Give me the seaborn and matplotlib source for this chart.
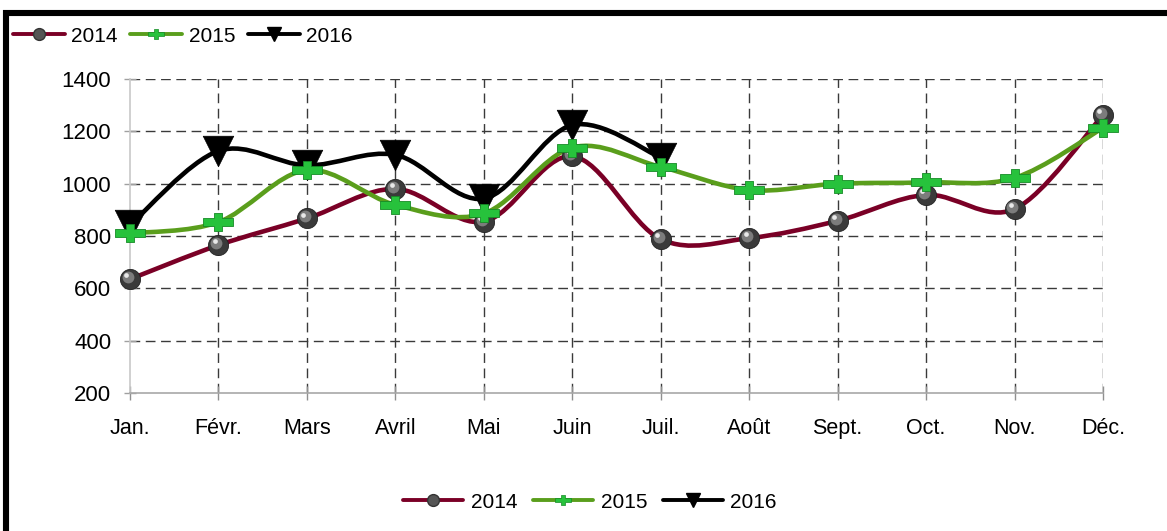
import numpy as np
import pandas as pd
import matplotlib
matplotlib.use("Agg")
import matplotlib.pyplot as plt
import seaborn as sns
from matplotlib.path import Path
from matplotlib.patches import PathPatch, Rectangle
from matplotlib.lines import Line2D
from matplotlib.transforms import ScaledTranslation

months = ["Jan.", "Févr.", "Mars", "Avril", "Mai", "Juin", "Juil.",
          "Août", "Sept.", "Oct.", "Nov.", "Déc."]
v2014 = [635, 765, 867, 980, 855, 1105, 788, 792, 858, 957, 903, 1262]
v2015 = [810, 853, 1052, 919, 886, 1138, 1064, 976, 1000, 1005, 1022, 1213]
v2016 = [842, 1125, 1070, 1110, 943, 1224, 1100]
series_names = ["2014", "2015", "2016"]
yticks = [200, 400, 600, 800, 1000, 1200, 1400]

c2014 = "#7A0026"
c2015 = "#5A9E1C"
c2016 = "#000000"

sns.set_theme(style="white")
plt.rcParams["font.family"] = ["Liberation Sans", "DejaVu Sans"]
plt.rcParams["text.color"] = "black"

W, H, DPI = 1167, 531, 100
fig = plt.figure(figsize=(W / DPI, H / DPI), dpi=DPI)
ax = fig.add_axes([130 / W, 1 - 393 / H, (1103 - 130) / W, (393 - 79) / H])

rows = []
for name, vals in zip(series_names, [v2014, v2015, v2016]):
    for i, v in enumerate(vals):
        rows.append({"mois": i, "label": months[i], "serie": name, "valeur": v})
df = pd.DataFrame(rows)


def smooth_path(xs, ys):
    # Excel-style smoothed line: cubic Bezier segments through every data point
    n = len(xs)
    P = np.column_stack([xs, ys]).astype(float)
    verts = [P[0]]
    codes = [Path.MOVETO]
    for i in range(n - 1):
        p0 = P[i - 1] if i > 0 else P[i]
        p1 = P[i]
        p2 = P[i + 1]
        p3 = P[i + 2] if i + 2 < n else P[i + 1]
        c1 = p1 + (p2 - p0) / 6.0
        c2 = p2 - (p3 - p1) / 6.0
        verts += [c1, c2, p2]
        codes += [Path.CURVE4] * 3
    return Path(verts, codes)


for name, col, z in [("2014", c2014, 3), ("2015", c2015, 4), ("2016", c2016, 5)]:
    d = df[df.serie == name]
    patch = PathPatch(smooth_path(d.mois.values, d.valeur.values), facecolor="none",
                      edgecolor=col, lw=3.3, zorder=z, capstyle="round", joinstyle="round")
    patch.set_clip_on(False)
    ax.add_patch(patch)

# custom wide plus marker
pw, ph = 1.0, 0.26
qh, qw = 0.62, 0.26
plus_verts = [(-pw, -ph), (-qw, -ph), (-qw, -qh), (qw, -qh), (qw, -ph), (pw, -ph),
              (pw, ph), (qw, ph), (qw, qh), (-qw, qh), (-qw, ph), (-pw, ph), (-pw, -ph)]
plus_marker = Path(plus_verts, closed=True)

# 2016 triangles
d16 = df[df.serie == "2016"]
sns.scatterplot(data=d16, x="mois", y="valeur", marker="v", s=22 ** 2, color="black",
                edgecolor="black", linewidth=0.5, ax=ax, zorder=6, clip_on=False, legend=False)

# 2014 spheres (layered circles for a shaded look)
d14 = df[df.serie == "2014"]
sns.scatterplot(data=d14, x="mois", y="valeur", marker="o", s=14.5 ** 2, color="#3a3a3a",
                edgecolor="#222222", linewidth=0.6, ax=ax, zorder=7, clip_on=False, legend=False)
off1 = ax.transData + ScaledTranslation(-1.5 / 72, 1.5 / 72, fig.dpi_scale_trans)
ax.plot(d14.mois, d14.valeur, "o", ms=8.5, color="#7c7c7c", mec="none", transform=off1,
        zorder=7.1, clip_on=False)
off2 = ax.transData + ScaledTranslation(-2.6 / 72, 2.8 / 72, fig.dpi_scale_trans)
ax.plot(d14.mois, d14.valeur, "o", ms=3.4, color="#e8e8e8", mec="none", transform=off2,
        zorder=7.2, clip_on=False)

# 2015 plus
d15 = df[df.serie == "2015"]
sns.scatterplot(data=d15, x="mois", y="valeur", marker=plus_marker, s=21 ** 2, color="#27C23C",
                edgecolor="#168A26", linewidth=0.6, ax=ax, zorder=8, clip_on=False, legend=False)

ax.set_xlim(0, 11)
ax.set_ylim(200, 1400)
ax.set_xticks(range(len(months)))
ax.set_xticklabels(months)
ax.set_yticks(yticks)
ax.set_xlabel("")
ax.set_ylabel("")

ax.grid(True, color="#3a3a3a", lw=1.0, linestyle=(0, (7, 4)))
ax.xaxis.get_gridlines()[0].set_visible(False)
ax.yaxis.get_gridlines()[0].set_visible(False)
ax.set_axisbelow(True)

for s in ["top", "right"]:
    ax.spines[s].set_visible(False)
ax.spines["left"].set_color("#c8c8c8")
ax.spines["bottom"].set_color("#a8a8a8")
ax.spines["left"].set_linewidth(1.2)
ax.spines["bottom"].set_linewidth(1.2)

ax.tick_params(axis="y", which="major", left=True, direction="inout", length=9, width=1,
               color="#a0a0a0", pad=9, labelsize=16, labelcolor="black")
ax.tick_params(axis="x", which="major", bottom=True, direction="inout", length=10, width=1,
               color="#909090", pad=13, labelsize=15.5, labelcolor="black")


def handles():
    h14 = Line2D([0], [0], color=c2014, lw=2.8, marker="o", ms=8.5, mfc="#555555", mec="#333333")
    h15 = Line2D([0], [0], color=c2015, lw=2.8, marker=plus_marker, ms=11, mfc="#27C23C",
                 mec="#168A26", mew=0.5)
    h16 = Line2D([0], [0], color=c2016, lw=2.8, marker="v", ms=9.5, mfc="black", mec="black")
    return [h14, h15, h16]


leg1 = fig.legend(handles(), series_names, loc="center left", bbox_to_anchor=(13 / W, 1 - 36 / H),
                  ncol=3, frameon=False, fontsize=15, handlelength=2.5, handletextpad=0.3,
                  columnspacing=0.6, borderaxespad=0, borderpad=0)
leg2 = fig.legend(handles(), series_names, loc="center", bbox_to_anchor=(590 / W, 1 - 502 / H),
                  ncol=3, frameon=False, fontsize=15, handlelength=2.9, handletextpad=0.35,
                  columnspacing=0.75, borderaxespad=0, borderpad=0)
for leg in (leg1, leg2):
    for t in leg.get_texts():
        t.set_color("black")

# outer black frame (partially outside the image, as in the reference)
frame = Rectangle((5.5 / W, -0.1), 1.2, 1 - 13 / H + 0.1, transform=fig.transFigure,
                  facecolor="none", edgecolor="black", lw=4.4, zorder=10)
fig.patches.append(frame)

fig.savefig("out.png", dpi=DPI)
